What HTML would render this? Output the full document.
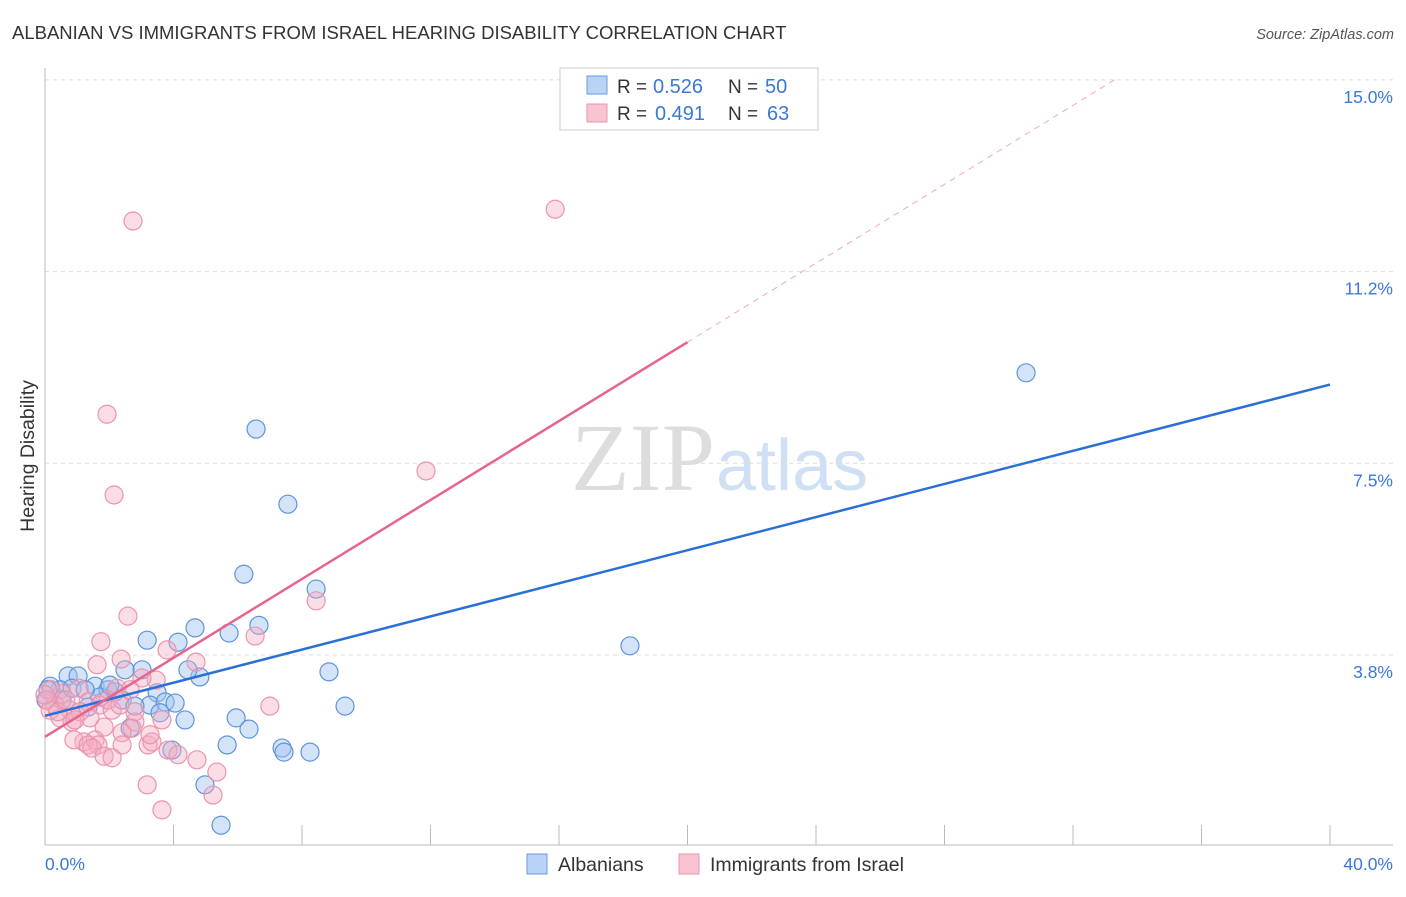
<!DOCTYPE html>
<html><head><meta charset="utf-8"><style>
body{margin:0;background:#fff;font-family:"Liberation Sans",sans-serif}
</style></head><body>
<svg id="c" width="1406" height="892" xmlns="http://www.w3.org/2000/svg">
<text x="12" y="39" font-size="18.5" fill="#333">ALBANIAN VS IMMIGRANTS FROM ISRAEL HEARING DISABILITY CORRELATION CHART</text>
<text x="1394" y="39" font-size="14.5" fill="#555" font-style="italic" text-anchor="end">Source: ZipAtlas.com</text>
<text x="715" y="490" font-size="96" fill="#ddd" text-anchor="end" font-family="Liberation Serif">ZIP</text>
<text x="716" y="490" font-size="72" fill="#cfe0f4">atlas</text>
<text x="34" y="456" font-size="19.5" fill="#333" transform="rotate(-90 34 456)" text-anchor="middle">Hearing Disability</text>
<g id="grid"></g><g id="axes"></g><g id="pts"></g><g id="lines"></g>
<g>
<rect x="560" y="68" width="258" height="62" fill="#fff" stroke="#ccc"/>
<rect x="587" y="76" width="20" height="18" fill="#b8d3f5" stroke="#6a9be0"/>
<rect x="587" y="104" width="20" height="18" fill="#f8c4d2" stroke="#eb95ae"/>
<text x="617" y="93" font-size="19" fill="#333">R =</text><text x="653" y="93" font-size="20" fill="#3a78d8">0.526</text>
<text x="728" y="93" font-size="19" fill="#333">N =</text><text x="765" y="93" font-size="20" fill="#3a78d8">50</text>
<text x="617" y="120" font-size="19" fill="#333">R =</text><text x="655" y="120" font-size="20" fill="#3a78d8">0.491</text>
<text x="728" y="120" font-size="19" fill="#333">N =</text><text x="767" y="120" font-size="20" fill="#3a78d8">63</text>
</g>
<g>
<rect x="527" y="854" width="20" height="20" fill="#b8d3f5" stroke="#6a9be0"/>
<text x="558" y="871" font-size="19.5" fill="#333">Albanians</text>
<rect x="679" y="854" width="20" height="20" fill="#f8c4d2" stroke="#eb95ae"/>
<text x="710" y="871" font-size="19.5" fill="#333">Immigrants from Israel</text>
</g>
</svg>
<script>
const yTicks=[3.75,7.5,11.25,15];
const yTickLabels=["3.8%","7.5%","11.2%","15.0%"];
const xAxisLabels=["0.0%","40.0%"];
const blueX=[6.57,7.56,6.19,8.44,6.66,5.73,4.67,4.14,3.18,4.82,4.45,3.02,2.49,3.49,3.27,3.74,4.05,3.58,4.36,5.95,6.35,2.65,5.67,3.95,7.38,7.44,8.25,4.98,5.48,8.84,9.34,18.21,30.54,0.72,1.03,0.47,0.16,1.56,1.96,2.18,1.71,2.40,1.34,2.80,0.53,0.09,0.84,1.25,2.02,0.03];
const blueY=[8.17,6.70,5.33,5.04,4.33,4.18,4.28,4.00,4.04,3.32,3.46,3.46,3.46,3.01,2.77,2.83,2.81,2.62,2.48,2.52,2.30,2.32,1.99,1.89,1.93,1.85,1.85,1.21,0.42,3.42,2.75,3.93,9.27,3.34,3.34,3.07,3.14,3.14,3.07,3.03,2.93,2.87,2.73,2.75,2.87,3.07,3.10,3.07,3.16,2.87];
const pinkX=[2.74,15.88,1.93,11.86,2.15,8.44,2.58,1.74,6.54,3.80,4.70,2.37,1.62,3.46,3.02,7.00,2.24,1.06,0.53,0.19,0.31,0.78,1.34,1.71,2.09,0.47,0.84,1.40,1.84,2.80,2.71,2.40,1.21,0.90,1.56,1.65,1.34,1.46,2.40,3.21,3.33,3.83,4.14,4.73,1.84,2.09,5.35,3.18,5.23,3.64,0.06,0.16,0.40,0.65,1.09,0.00,1.96,2.80,2.65,3.27,3.64,2.33,0.93];
const pinkY=[12.24,12.47,8.46,7.35,6.88,4.81,4.51,4.01,4.12,3.85,3.61,3.67,3.56,3.26,3.30,2.75,3.10,3.10,2.99,3.07,2.77,2.67,2.83,2.77,2.67,2.52,2.44,2.52,2.34,2.44,2.32,2.23,2.05,2.09,2.09,1.99,1.99,1.93,1.99,1.99,2.05,1.89,1.80,1.70,1.77,1.74,1.46,1.21,1.01,0.72,2.87,2.67,2.64,2.87,2.64,2.97,2.87,2.64,3.07,2.19,2.48,2.77,2.48];
const blueTrend=[2.56,0.162];
const pinkTrend=[2.15,0.386];
const NS="http://www.w3.org/2000/svg";
const X=v=>45+v/40*1285, Y=v=>846.7-v*51.12;
function mk(t,a,p){const e=document.createElementNS(NS,t);for(const k in a)e.setAttribute(k,a[k]);document.getElementById(p).appendChild(e);return e;}
yTicks.forEach((t,i)=>{
 const l=mk('line',{x1:45,x2:1393,y1:Y(t),y2:Y(t),stroke:'#ddd','stroke-dasharray':'4 4'},'grid');
 
 
 const tx=mk('text',{x:1393,y:Y(t)+23,'font-size':17.5,fill:'#3a78d8','text-anchor':'end'},'grid');tx.textContent=yTickLabels[i];
 
 
});
mk('line',{x1:45,x2:45,y1:68,y2:845,stroke:'#bbb'},'axes');
mk('line',{x1:45,x2:1393,y1:845,y2:845,stroke:'#bbb'},'axes');
for(let i=0;i<=10;i++){const t=mk('line',{x1:X(i*4),x2:X(i*4),y1:825,y2:845,stroke:'#bbb'},'axes');
 
 }
[[45,'start',0],[1393,'end',1]].forEach(a=>{const t=mk('text',{x:a[0],y:870,'font-size':17.5,fill:'#3a78d8','text-anchor':a[1]},'axes');t.textContent=xAxisLabels[a[2]];
 
 });
blueX.forEach((x,i)=>{const c=mk('circle',{cx:X(x),cy:Y(blueY[i]),r:9,fill:'rgba(160,196,240,0.45)',stroke:'#5f93da','stroke-width':1.2},'pts');
 
 });
pinkX.forEach((x,i)=>{const c=mk('circle',{cx:X(x),cy:Y(pinkY[i]),r:9,fill:'rgba(245,170,192,0.4)',stroke:'#ea94ad','stroke-width':1.2},'pts');
 
 });
let l=mk('line',{x1:X(0),y1:Y(blueTrend[0]),x2:X(40),y2:Y(blueTrend[0]+40*blueTrend[1]),stroke:'#2a6fd6','stroke-width':2.5},'lines');


l=mk('line',{x1:X(0),y1:Y(pinkTrend[0]),x2:X(20),y2:Y(pinkTrend[0]+20*pinkTrend[1]),stroke:'#e8648c','stroke-width':2.5},'lines');


const xe=(15-pinkTrend[0])/pinkTrend[1];
l=mk('line',{x1:X(20),y1:Y(pinkTrend[0]+20*pinkTrend[1]),x2:X(xe),y2:Y(15),stroke:'#eeaabd','stroke-width':1,'stroke-dasharray':'6 5'},'lines');


</script>
</body></html>
